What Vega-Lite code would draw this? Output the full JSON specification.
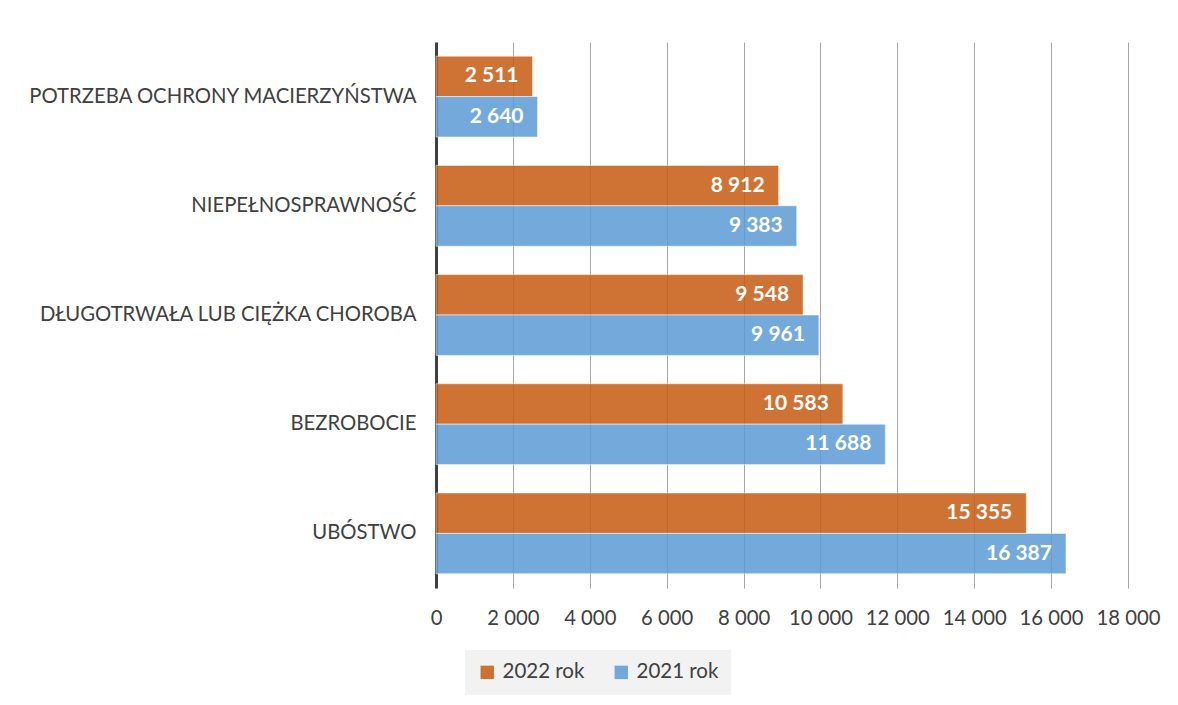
{
  "$schema": "https://vega.github.io/schema/vega-lite/v6.json",
  "autosize": "none",
  "width": 692,
  "height": 546,
  "padding": {"left": 436, "top": 42, "right": 50, "bottom": 117},
  "background": "white",
  "config": {
    "font": "Lato",
    "view": {"stroke": null},
    "locale": {"number": {"decimal": ",", "thousands": " ", "grouping": [3], "currency": ["", " zł"]}}
  },
  "data": {
    "values": [
      {"category": "POTRZEBA OCHRONY MACIERZYŃSTWA", "series": "2022 rok", "value": 2511},
      {"category": "POTRZEBA OCHRONY MACIERZYŃSTWA", "series": "2021 rok", "value": 2640},
      {"category": "NIEPEŁNOSPRAWNOŚĆ", "series": "2022 rok", "value": 8912},
      {"category": "NIEPEŁNOSPRAWNOŚĆ", "series": "2021 rok", "value": 9383},
      {"category": "DŁUGOTRWAŁA LUB CIĘŻKA CHOROBA", "series": "2022 rok", "value": 9548},
      {"category": "DŁUGOTRWAŁA LUB CIĘŻKA CHOROBA", "series": "2021 rok", "value": 9961},
      {"category": "BEZROBOCIE", "series": "2022 rok", "value": 10583},
      {"category": "BEZROBOCIE", "series": "2021 rok", "value": 11688},
      {"category": "UBÓSTWO", "series": "2022 rok", "value": 15355},
      {"category": "UBÓSTWO", "series": "2021 rok", "value": 16387}
    ]
  },
  "encoding": {
    "y": {
      "field": "category",
      "type": "nominal",
      "sort": ["POTRZEBA OCHRONY MACIERZYŃSTWA", "NIEPEŁNOSPRAWNOŚĆ", "DŁUGOTRWAŁA LUB CIĘŻKA CHOROBA", "BEZROBOCIE", "UBÓSTWO"],
      "scale": {"paddingInner": 0.26, "paddingOuter": 0.13},
      "axis": {
        "title": null,
        "ticks": false,
        "labelFontSize": 20.3,
        "labelColor": "#404040",
        "labelPadding": 20,
        "labelLimit": 500,
        "domainColor": "#404040",
        "domainWidth": 3
      }
    },
    "yOffset": {
      "field": "series",
      "type": "nominal",
      "sort": ["2022 rok", "2021 rok"],
      "scale": {"paddingInner": 0, "paddingOuter": 0}
    },
    "x": {
      "field": "value",
      "type": "quantitative",
      "scale": {"domain": [0, 18000], "nice": false},
      "axis": {
        "title": null,
        "values": [0, 2000, 4000, 6000, 8000, 10000, 12000, 14000, 16000, 18000],
        "format": ",d",
        "labelOverlap": false,
        "labelBound": false,
        "labelFlush": false,
        "domain": false,
        "ticks": false,
        "labelFontSize": 20.3,
        "labelColor": "#404040",
        "labelPadding": 20,
        "gridColor": "#a6a6a6",
        "gridWidth": 1,
        "zindex": 0
      }
    }
  },
  "layer": [
    {
      "mark": {"type": "bar", "fillOpacity": 0.85, "stroke": "#ffffff", "strokeOpacity": 0.5, "strokeWidth": 1},
      "encoding": {
        "color": {
          "field": "series",
          "type": "nominal",
          "scale": {"domain": ["2022 rok", "2021 rok"], "range": ["#C55A11", "#5B9BD5"]},
          "legend": {
            "title": null,
            "orient": "none",
            "direction": "horizontal",
            "legendX": 29,
            "legendY": 608,
            "fillColor": "#f2f2f2",
            "padding": 12,
            "symbolType": "square",
            "symbolSize": 180,
            "symbolStrokeWidth": 0,
            "symbolOpacity": 0.85,
            "labelFontSize": 20.5,
            "labelColor": "#404040",
            "columnPadding": 26,
            "labelOffset": 5,
            "labelLimit": 200
          }
        }
      }
    },
    {
      "mark": {"type": "text", "align": "right", "baseline": "middle", "dx": -14, "color": "white", "fontWeight": "bold", "fontSize": 21},
      "encoding": {
        "text": {"field": "value", "type": "quantitative", "format": ",d"}
      }
    }
  ]
}
